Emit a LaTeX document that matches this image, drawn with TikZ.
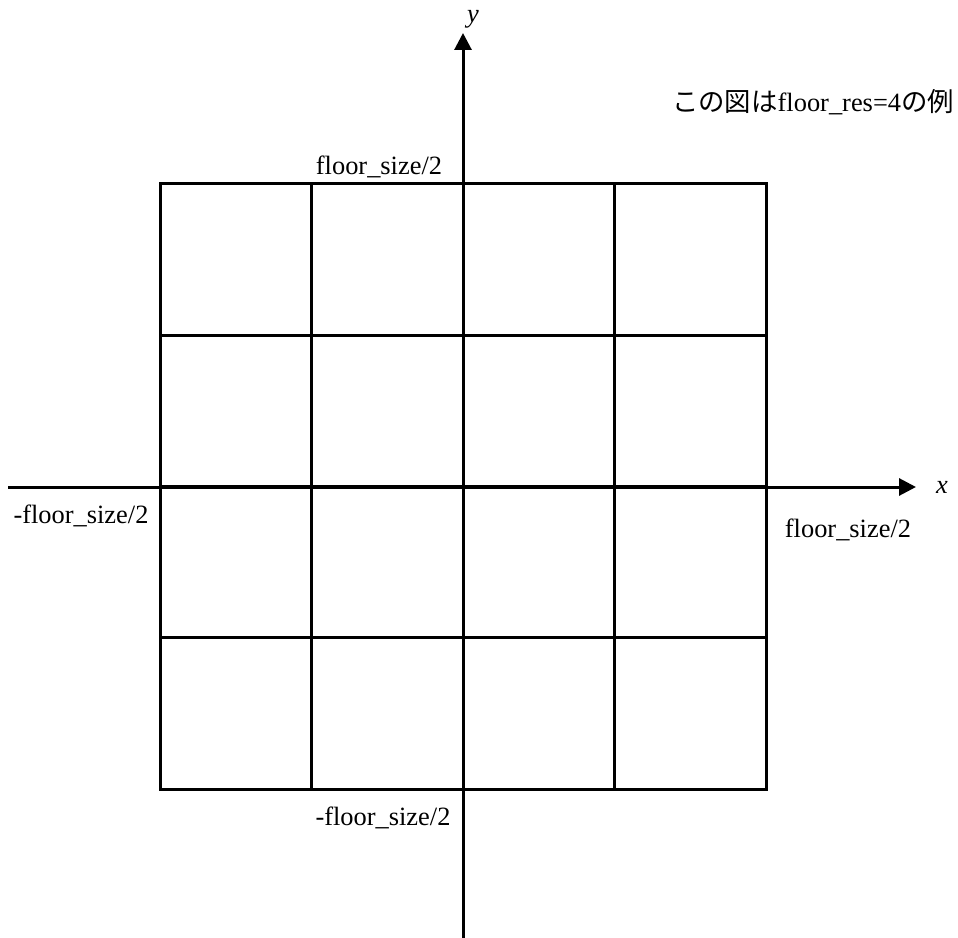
\documentclass[tikz,border=0pt]{standalone}
\usepackage{fontspec}
\setmainfont{Liberation Serif}
\newfontfamily\cjk{Noto Sans CJK JP}
\usetikzlibrary{arrows.meta}

\begin{document}
\begin{tikzpicture}[x=0.75pt,y=-0.75pt,>={Triangle[length=12.75pt,width=12.75pt]},line width=2.25pt,
    lbl/.style={font=\fontsize{19.8}{24}\selectfont,inner sep=0pt,anchor=base}]
    \useasboundingbox (0,0) rectangle (958,938);
    % grid
    \draw (160,184) rectangle (766,789);
    \foreach \i in {1,2,3} {
      \draw (160+151.5*\i,184) -- (160+151.5*\i,789);
      \draw (160,184+151.25*\i) -- (766,184+151.25*\i);
    }
    % axes
    \coordinate (xs) at (8,487);
    \coordinate (xe) at (916,487);
    \coordinate (ys) at (463,938);
    \coordinate (ye) at (463,33);
    \draw[->] (xs) -- (xe);
    \draw[->] (ys) -- (ye);
    \node[lbl] (xlab) at (942,493) {\textit{x}};
    \node[lbl] (ylab) at (473,23) {\textit{y}};
    % bounds
    \node[lbl] (top) at (379,175) {floor\_size/2};
    \node[lbl] (bottom) at (383,825) {-floor\_size/2};
    \node[lbl] (left) at (81,523) {-floor\_size/2};
    \node[lbl] (right) at (848,537) {floor\_size/2};
    \node[lbl] (note) at (813,112) {{\cjk この図は}floor\_res=4{\cjk の例}};
\end{tikzpicture}
\end{document}
